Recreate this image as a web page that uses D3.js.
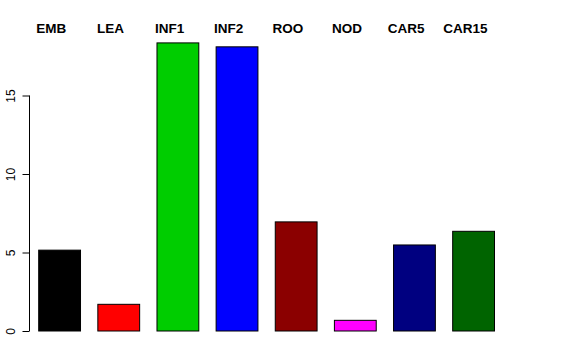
<!DOCTYPE html>
<html>
<head>
<meta charset="utf-8">
<script src="https://cdn.jsdelivr.net/npm/d3@7"></script>
<style>
  html, body { margin: 0; padding: 0; background: #fff; }
  svg { display: block; }
</style>
</head>
<body>
<svg id="chart" width="576" height="360"></svg>
<script>
const categories = ["EMB", "LEA", "INF1", "INF2", "ROO", "NOD", "CAR5", "CAR15"];
const values = [5.15, 1.70, 18.35, 18.1, 6.95, 0.68, 5.48, 6.35];
const colors = ["#000000", "#FF0000", "#00CD00", "#0000FF", "#8B0000", "#FF00FF", "#000080", "#006400"];
const yTicks = [0, 5, 10, 15];

const svg = d3.select("#chart");

const x = d3.scaleBand()
  .domain(categories)
  .range([38.7, 494.5])
  .paddingInner(0.293)
  .paddingOuter(0);

const y = d3.scaleLinear()
  .domain([0, 15])
  .range([331, 95.5]);

// bars
svg.append("g")
  .selectAll("rect")
  .data(categories)
  .join("rect")
  .attr("x", d => x(d))
  .attr("y", (d, i) => y(values[i]))
  .attr("width", x.bandwidth())
  .attr("height", (d, i) => y(0) - y(values[i]))
  .attr("fill", (d, i) => colors[i])
  .attr("stroke", "#000")
  .attr("stroke-width", 1);

// y axis (R style)
const axisG = svg.append("g")
  .attr("transform", "translate(29.5,0)")
  .call(d3.axisLeft(y).tickValues(yTicks).tickSize(7).tickPadding(0).tickFormat(d3.format("d")));
axisG.select(".domain").attr("d", `M0,${y(0)}V${y(15)}`).attr("stroke", "#000");
axisG.selectAll(".tick line").attr("stroke", "#000");
axisG.selectAll(".tick text")
  .attr("x", null).attr("dy", null)
  .attr("text-anchor", "middle")
  .attr("transform", "translate(-15,0) rotate(-90)")
  .attr("font-family", "Liberation Sans, Arial, sans-serif")
  .attr("font-size", 12)
  .attr("fill", "#000");

// top labels
svg.append("g")
  .selectAll("text")
  .data(categories)
  .join("text")
  .attr("x", d => x(d) + x.bandwidth() / 2 - 8.3)
  .attr("y", 33)
  .attr("text-anchor", "middle")
  .attr("font-family", "Liberation Sans, Arial, sans-serif")
  .attr("font-weight", "bold")
  .attr("font-size", 13.5)
  .attr("fill", "#000")
  .text(d => d);
</script>
</body>
</html>
